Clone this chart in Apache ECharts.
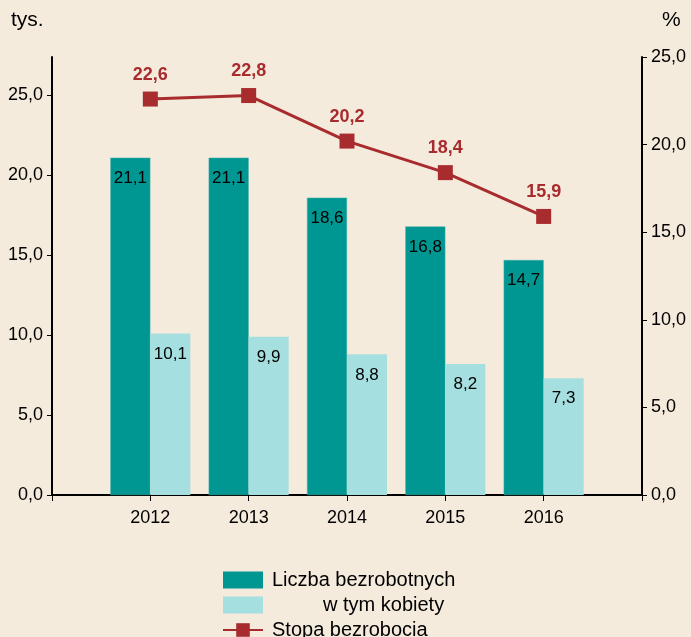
<!DOCTYPE html>
<html>
<head>
<meta charset="utf-8">
<script src="https://cdn.jsdelivr.net/npm/echarts@6/dist/echarts.min.js"></script>
<style>
html,body{margin:0;padding:0;background:#f5ebdd;}
#c{width:691px;height:637px;}
</style>
</head>
<body>
<div id="c"></div>
<script>
const years = ['2012', '2013', '2014', '2015', '2016'];
const unemployed = [21.1, 21.1, 18.6, 16.8, 14.7];
const women = [10.1, 9.9, 8.8, 8.2, 7.3];
const rate = [22.6, 22.8, 20.2, 18.4, 15.9];
const leftTicks = [0, 5, 10, 15, 20, 25];
const rightTicks = [0, 5, 10, 15, 20, 25];

const pad = arr => [null].concat(arr, [null]);
const cats = [''].concat(years, ['']);
const fmt = v => v.toFixed(1).replace('.', ',');
const FONT = 'Liberation Sans, Arial, sans-serif';

const chart = echarts.init(document.getElementById('c'), null, {renderer: 'canvas'});
chart.setOption({
  backgroundColor: '#f5ebdd',
  animation: false,
  textStyle: {fontFamily: FONT, color: '#000'},
  grid: {left: 52, right: 49, top: 57, bottom: 142, containLabel: false},
  xAxis: {
    type: 'category',
    data: cats,
    boundaryGap: false,
    axisLine: {lineStyle: {color: '#000', width: 2}},
    axisTick: {show: true, interval: 0, length: 6, lineStyle: {color: '#000', width: 1}},
    axisLabel: {interval: 0, fontSize: 18, color: '#000', margin: 14, fontFamily: FONT},
    splitLine: {show: false}
  },
  yAxis: [{
    type: 'value',
    min: 0,
    max: 27.4,
    interval: 5,
    axisLine: {show: true, lineStyle: {color: '#000', width: 2}},
    axisTick: {show: true, length: 5, customValues: leftTicks, lineStyle: {color: '#000'}},
    axisLabel: {fontSize: 18, color: '#000', margin: 9, customValues: leftTicks, formatter: v => fmt(v), fontFamily: FONT},
    splitLine: {show: false}
  }, {
    type: 'value',
    min: 0,
    max: 25,
    interval: 5,
    position: 'right',
    axisLine: {show: true, lineStyle: {color: '#000', width: 2}},
    axisTick: {show: true, length: 5, customValues: rightTicks, lineStyle: {color: '#000'}},
    axisLabel: {fontSize: 18, color: '#000', margin: 9, customValues: rightTicks, formatter: v => fmt(v), fontFamily: FONT},
    splitLine: {show: false}
  }],
  legend: {
    orient: 'vertical',
    left: 222,
    top: 570,
    height: 120,
    width: 320,
    padding: 0,
    itemWidth: 40,
    itemHeight: 17,
    itemGap: 5,
    itemStyle: {borderWidth: 0},
    data: [
      {name: 'Liczba bezrobotnych', icon: 'rect'},
      {name: 'w tym kobiety', icon: 'rect'},
      {name: 'Stopa bezrobocia'}
    ],
    formatter: name => name === 'w tym kobiety' ? '{ind|' + name + '}' : '{n|' + name + '}',
    textStyle: {
      fontSize: 20, lineHeight: 20, color: '#000', fontFamily: FONT,
      rich: {
        n: {padding: [0, 0, 0, 4], fontSize: 20, lineHeight: 20, fontFamily: FONT, color: '#000'},
        ind: {padding: [0, 0, 0, 55], fontSize: 20, lineHeight: 20, fontFamily: FONT, color: '#000'}
      }
    }
  },
  graphic: [
    {type: 'text', left: 11, top: 10, style: {text: 'tys.', fontSize: 21, fontFamily: FONT, fill: '#000'}},
    {type: 'text', left: 662, top: 10, style: {text: '%', fontSize: 21, fontFamily: FONT, fill: '#000'}}
  ],
  series: [{
    name: 'Liczba bezrobotnych',
    type: 'bar',
    data: pad(unemployed),
    barWidth: 40,
    barGap: '0%',
    itemStyle: {color: '#009691', borderColor: '#3fb3ad', borderWidth: 0.5},
    label: {show: true, position: 'insideTop', distance: 12, fontSize: 17, color: '#000', fontFamily: FONT, formatter: p => fmt(p.value)}
  }, {
    name: 'w tym kobiety',
    type: 'bar',
    data: pad(women),
    barWidth: 40,
    barGap: '0%',
    itemStyle: {color: '#a6dfdf'},
    label: {show: true, position: 'insideTop', distance: 12, fontSize: 17, color: '#000', fontFamily: FONT, formatter: p => fmt(p.value)}
  }, {
    name: 'Stopa bezrobocia',
    type: 'line',
    yAxisIndex: 1,
    data: pad(rate),
    symbol: 'rect',
    symbolSize: 15,
    lineStyle: {color: '#a82c2e', width: 3},
    itemStyle: {color: '#a82c2e'},
    label: {show: true, position: 'top', distance: 8, fontSize: 18, fontWeight: 'bold', color: '#a82c2e', fontFamily: FONT, formatter: p => fmt(p.value)}
  }]
});
</script>
</body>
</html>
